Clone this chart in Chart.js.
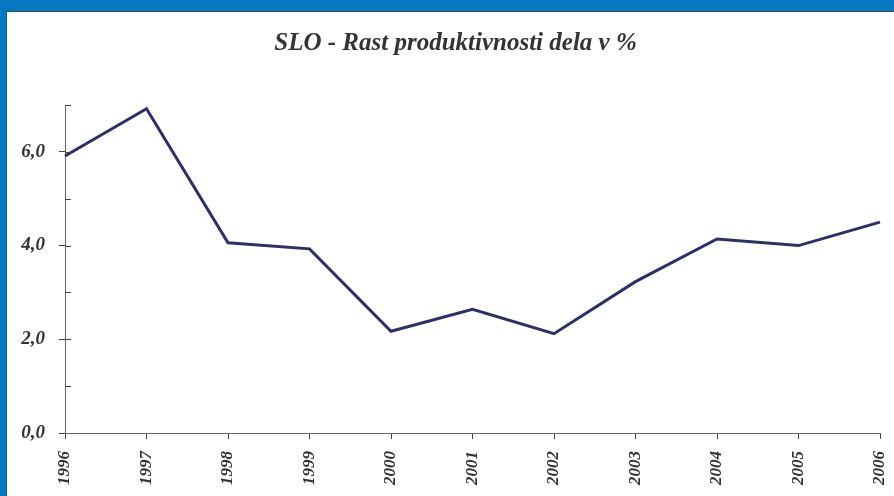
<!DOCTYPE html>
<html>
<head>
<meta charset="utf-8">
<script src="https://cdn.jsdelivr.net/npm/chart.js@4"></script>
<style>
  html, body { margin: 0; padding: 0; }
  body { width: 894px; height: 496px; background: #0479c1; position: relative; overflow: hidden; }
  #frame { position: absolute; left: 6px; top: 11px; width: 888px; height: 485px; background: #fff;
           border-left: 1px solid #3d4a57; border-top: 1px solid #3d4a57; box-sizing: border-box; }
  #wrap { position: absolute; left: 1px; top: 1px; width: 887px; height: 484px; }
</style>
</head>
<body>
<div id="frame"><div id="wrap"><canvas id="c" width="887" height="484"></canvas></div></div>
<script>
const titleText = 'SLO - Rast produktivnosti dela v %';
const years = ['1996','1997','1998','1999','2000','2001','2002','2003','2004','2005','2006'];
const growth = [5.91, 6.92, 4.06, 3.93, 2.17, 2.64, 2.12, 3.23, 4.14, 4.00, 4.50];
const yMin = 0, yMax = 7, yStep = 1;

const textColor = '#333333';
const lineColor = '#2e2f66';
const serif = "'Liberation Serif', 'Times New Roman', serif";

const innerTicks = {
  id: 'innerTicks',
  afterDraw(chart) {
    const ys = chart.scales.y;
    const ctx = chart.ctx;
    ctx.save();
    ctx.strokeStyle = '#444';
    ctx.lineWidth = 1;
    ctx.beginPath();
    for (let v = yMin + yStep; v <= yMax; v += yStep) {
      const py = Math.round(ys.getPixelForValue(v)) + 0.5;
      ctx.moveTo(ys.right, py);
      ctx.lineTo(ys.right + 6, py);
    }
    ctx.stroke();
    ctx.restore();
  }
};

new Chart(document.getElementById('c'), {
  type: 'line',
  data: {
    labels: years,
    datasets: [{
      data: growth,
      borderColor: lineColor,
      borderWidth: 3,
      pointRadius: 0,
      tension: 0,
      fill: false
    }]
  },
  options: {
    responsive: false,
    animation: false,
    layout: { padding: { left: 8, right: 0, top: 0, bottom: 0 } },
    plugins: {
      legend: { display: false },
      tooltip: { enabled: false },
      title: {
        display: true,
        text: titleText,
        color: textColor,
        font: { family: serif, size: 25, style: 'italic', weight: 'bold', lineHeight: 1.2 },
        padding: { top: 16, bottom: 46 }
      }
    },
    scales: {
      x: {
        type: 'category',
        offset: false,
        border: { display: true, color: '#666', width: 1 },
        grid: { display: true, drawOnChartArea: false, drawTicks: true, tickLength: 6, color: '#444' },
        ticks: {
          color: textColor,
          font: { family: serif, size: 17, style: 'italic', weight: 'bold' },
          minRotation: 90, maxRotation: 90,
          padding: 12,
          autoSkip: false
        },
        afterFit(s) { s.height = 64; s.paddingLeft = 0; s.paddingRight = 15; }
      },
      y: {
        min: yMin, max: yMax,
        border: { display: true, color: '#666', width: 1 },
        grid: {
          display: true, drawOnChartArea: false, drawTicks: true, tickLength: 6,
          color: (c) => (c.tick && c.tick.value % 2 === 0) ? '#444' : 'rgba(0,0,0,0)'
        },
        ticks: {
          stepSize: yStep,
          color: textColor,
          font: { family: serif, size: 19, style: 'italic', weight: 'bold' },
          padding: 14,
          callback: (v) => (v % 2 === 0) ? v.toFixed(1).replace('.', ',') : ''
        },
        afterFit(s) { s.width = 49; s.paddingTop = 0; s.paddingBottom = 0; }
      }
    }
  },
  plugins: [innerTicks]
});
</script>
</body>
</html>
